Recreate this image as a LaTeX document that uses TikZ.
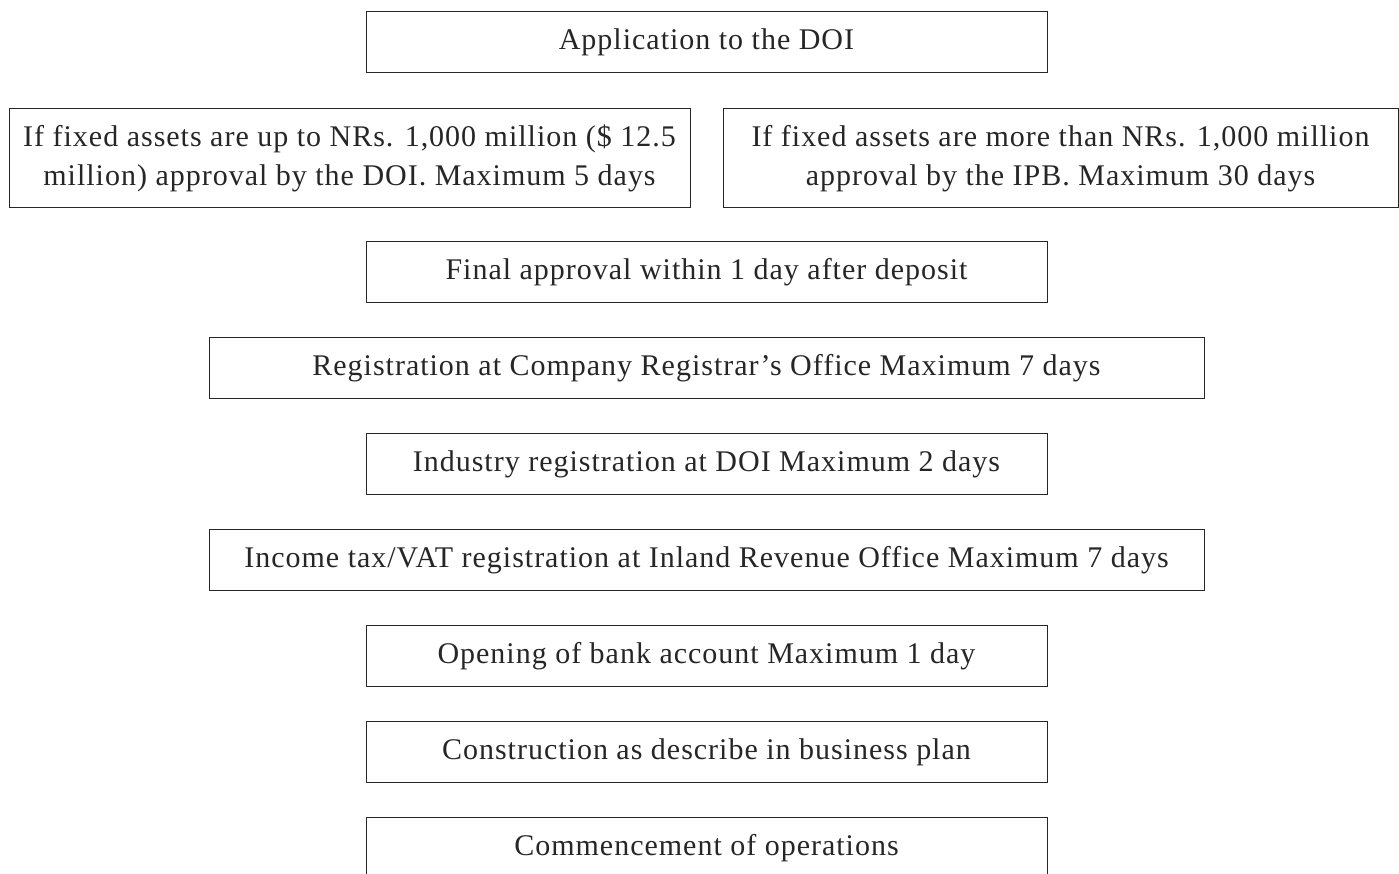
\documentclass[tikz,border=0pt]{standalone}
\usepackage{fontspec}
\setmainfont{Liberation Serif}[LetterSpace=3.3]
\begin{document}
\begin{tikzpicture}[x=1pt,y=1pt,
  box/.style={draw=black!85, line width=1pt, inner sep=0pt, align=center,
    font=\fontsize{30}{39}\selectfont, text=black!85},
  narrow/.style={box, minimum width=681, minimum height=61},
  wide/.style={box, minimum width=995, minimum height=61}]
\clip (0,0) rectangle (1399,874);
\node[narrow] (app) at (706.5,831.5) {Application to the DOI};
\node[box, minimum width=681, minimum height=99] (doi) at (349.5,715.5)
  {If fixed assets are up to NRs. 1,000 million (\$ 12.5\\million) approval by the DOI. Maximum 5 days};
\node[box, minimum width=675, minimum height=99] (ipb) at (1060.5,715.5)
  {If fixed assets are more than NRs. 1,000 million\\approval by the IPB. Maximum 30 days};
\node[narrow] (final) at (706.5,602) {Final approval within 1 day after deposit};
\node[wide] (reg) at (706.5,505.5) {Registration at Company Registrar’s Office Maximum 7 days};
\node[narrow] (ind) at (706.5,409.5) {Industry registration at DOI Maximum 2 days};
\node[wide] (tax) at (706.5,313.5) {Income tax/VAT registration at Inland Revenue Office Maximum 7 days};
\node[narrow] (bank) at (706.5,217.5) {Opening of bank account Maximum 1 day};
\node[narrow] (cons) at (706.5,121.5) {Construction as describe in business plan};
\node[narrow] (comm) at (706.5,25.5) {Commencement of operations};
\end{tikzpicture}
\end{document}
